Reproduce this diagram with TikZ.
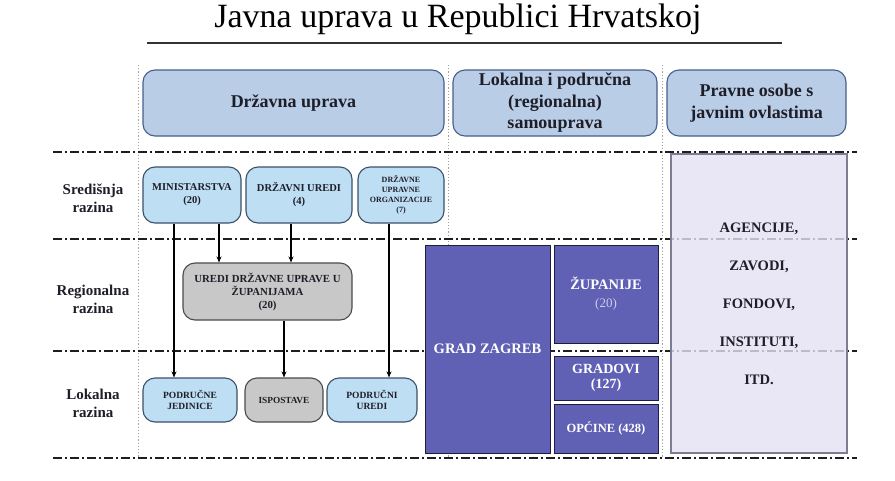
\documentclass[tikz,border=0pt]{standalone}
\usepackage{fontspec}
\setmainfont{Liberation Serif}
\usetikzlibrary{arrows.meta}
\definecolor{hdrfill}{RGB}{185,205,230}
\definecolor{hdrdraw}{RGB}{70,95,140}
\definecolor{bfill}{RGB}{190,222,244}
\definecolor{bdraw}{RGB}{60,80,105}
\definecolor{gfill}{RGB}{200,200,200}
\definecolor{gdraw}{RGB}{75,75,75}
\definecolor{pfill}{RGB}{96,96,180}
\definecolor{pdraw}{RGB}{30,30,60}
\definecolor{lfill}{RGB}{228,226,243}
\definecolor{ldraw}{RGB}{125,125,145}
\definecolor{ddline}{RGB}{30,30,30}
\definecolor{vline}{RGB}{160,160,160}
\definecolor{txtdark}{RGB}{30,30,40}
\definecolor{paren}{RGB}{205,205,235}
\tikzset{
  hdr/.style={draw=hdrdraw, fill=hdrfill, line width=1.1pt, rounded corners=12pt,
    inner sep=0pt, align=center, font=\bfseries\fontsize{18}{21.5}\selectfont, text=txtdark},
  sbox/.style={draw=bdraw, fill=bfill, line width=1.1pt, rounded corners=12pt,
    inner sep=0pt, align=center, text=txtdark},
  gbox/.style={sbox, fill=gfill, draw=gdraw},
  pbox/.style={draw=pdraw, fill=pfill, line width=1pt, inner sep=0pt, align=center,
    text=white, font=\bfseries\fontsize{14.5}{16}\selectfont},
  lab/.style={align=center, inner sep=0pt, text=txtdark,
    font=\bfseries\fontsize{15}{18}\selectfont},
  dd/.style={draw=ddline, line width=1.6pt, dash pattern=on 9pt off 3pt on 2pt off 3pt},
  vdot/.style={draw=vline, line width=0.9pt, dash pattern=on 1.2pt off 2pt},
  arr/.style={draw=black, line width=1.4pt, -{Stealth[length=6pt,width=5pt]}}
}
\begin{document}
\begin{tikzpicture}[x=1pt,y=-1pt]
\useasboundingbox (0,0) rectangle (895,480);
\fill[white] (0,0) rectangle (895,480);

% title
\node[anchor=base, inner sep=0pt, font=\fontsize{34}{34}\selectfont, text=black] (title) at (458,27) {Javna uprava u Republici Hrvatskoj};
\coordinate (tl) at (147,43);
\coordinate (tr) at (782,43);
\draw[line width=2.4pt, draw={rgb,255:red,50;green,50;blue,50}] (tl) -- (tr);

% vertical dotted separators
\coordinate (v1a) at (138,65); \coordinate (v1b) at (138,458);
\coordinate (v2a) at (448,65); \coordinate (v2b) at (448,458);
\coordinate (v3a) at (662,65); \coordinate (v3b) at (662,458);
\path[vdot] (v1a) -- (v1b);
\path[vdot] (v2a) -- (v2b);
\path[vdot] (v3a) -- (v3b);

% dash-dot level lines
\coordinate (h1a) at (53,152); \coordinate (h1b) at (857,152);
\coordinate (h2a) at (53,239); \coordinate (h2b) at (857,239);
\coordinate (h3a) at (53,351); \coordinate (h3b) at (857,351);
\coordinate (h4a) at (53,458); \coordinate (h4b) at (857,458);
\path[dd] (h1a) -- (h1b);
\path[dd] (h2a) -- (h2b);
\path[dd] (h3a) -- (h3b);
\path[dd] (h4a) -- (h4b);

% headers
\node[hdr, minimum width=301pt, minimum height=66pt] (hdr1) at (293.5,103) {Državna uprava};
\node[hdr, minimum width=204pt, minimum height=66pt] (hdr2) at (555,103) {Lokalna i područna\\(regionalna)\\samouprava};
\node[hdr, minimum width=179pt, minimum height=66pt] (hdr3) at (756.5,103) {Pravne osobe s\\javnim ovlastima};

% row labels
\node[lab] (l1) at (93,198) {Središnja\\razina};
\node[lab] (l2) at (93,299) {Regionalna\\razina};
\node[lab] (l3) at (93,403) {Lokalna\\razina};

% state administration boxes
\node[sbox, minimum width=98pt, minimum height=56pt, font=\bfseries\fontsize{10.5}{13}\selectfont] (min) at (192,195) {MINISTARSTVA\\(20)};
\node[sbox, minimum width=106pt, minimum height=56pt, font=\bfseries\fontsize{10.5}{13}\selectfont] (du) at (299,195) {DRŽAVNI UREDI\\(4)};
\node[sbox, minimum width=86pt, minimum height=56pt, font=\bfseries\fontsize{8}{10}\selectfont] (org) at (401,195) {DRŽAVNE\\UPRAVNE\\ORGANIZACIJE\\(7)};
\node[gbox, minimum width=169pt, minimum height=57pt, font=\bfseries\fontsize{10.8}{13}\selectfont] (ured) at (267.5,291.5) {UREDI DRŽAVNE UPRAVE U\\ŽUPANIJAMA\\(20)};
\node[sbox, minimum width=94pt, minimum height=44pt, font=\bfseries\fontsize{9.5}{11.5}\selectfont] (pj) at (190,400) {PODRUČNE\\JEDINICE};
\node[gbox, minimum width=78pt, minimum height=44pt, font=\bfseries\fontsize{9.3}{11.5}\selectfont] (isp) at (284,400) {ISPOSTAVE};
\node[sbox, minimum width=90pt, minimum height=44pt, font=\bfseries\fontsize{9.5}{11.5}\selectfont] (pu) at (372,400) {PODRUČNI\\UREDI};

% arrows
\draw[arr] ([xshift=-18pt]min.south) -- ([xshift=-18pt]min.south |- pj.north);
\draw[arr] ([xshift=27pt]min.south) -- ([xshift=27pt]min.south |- ured.north);
\draw[arr] ([xshift=-8pt]du.south) -- ([xshift=-8pt]du.south |- ured.north);
\draw[arr] (isp.north |- ured.south) -- (isp.north);
\draw[arr] ([xshift=-12pt]org.south) -- ([xshift=-12pt]org.south |- pu.north);

% local and regional self-government
\node[pbox, minimum width=125pt, minimum height=208pt] (gz) at (487.5,349) {GRAD ZAGREB};
\node[pbox, minimum width=104pt, minimum height=98pt] (zup) at (606,294) {ŽUPANIJE\\[2pt]{\mdseries\color{paren}\fontsize{13}{15}\selectfont(20)}};
\node[pbox, minimum width=104pt, minimum height=44pt, font=\bfseries\fontsize{14}{15}\selectfont] (grd) at (606,378) {GRADOVI\\(127)};
\node[pbox, minimum width=104pt, minimum height=49pt, font=\bfseries\fontsize{12.5}{14}\selectfont] (opc) at (606,428.5) {OPĆINE (428)};

% legal persons with public authority
\node[draw=ldraw, fill=lfill, fill opacity=0.8, text opacity=1, line width=1.2pt,
  minimum width=176pt, minimum height=299pt, inner sep=0pt, align=center, text=txtdark,
  font=\bfseries\fontsize{14.5}{38}\selectfont] (prav) at (759,303.5)
  {AGENCIJE,\\ZAVODI,\\FONDOVI,\\INSTITUTI,\\ITD.};
\end{tikzpicture}
\end{document}
